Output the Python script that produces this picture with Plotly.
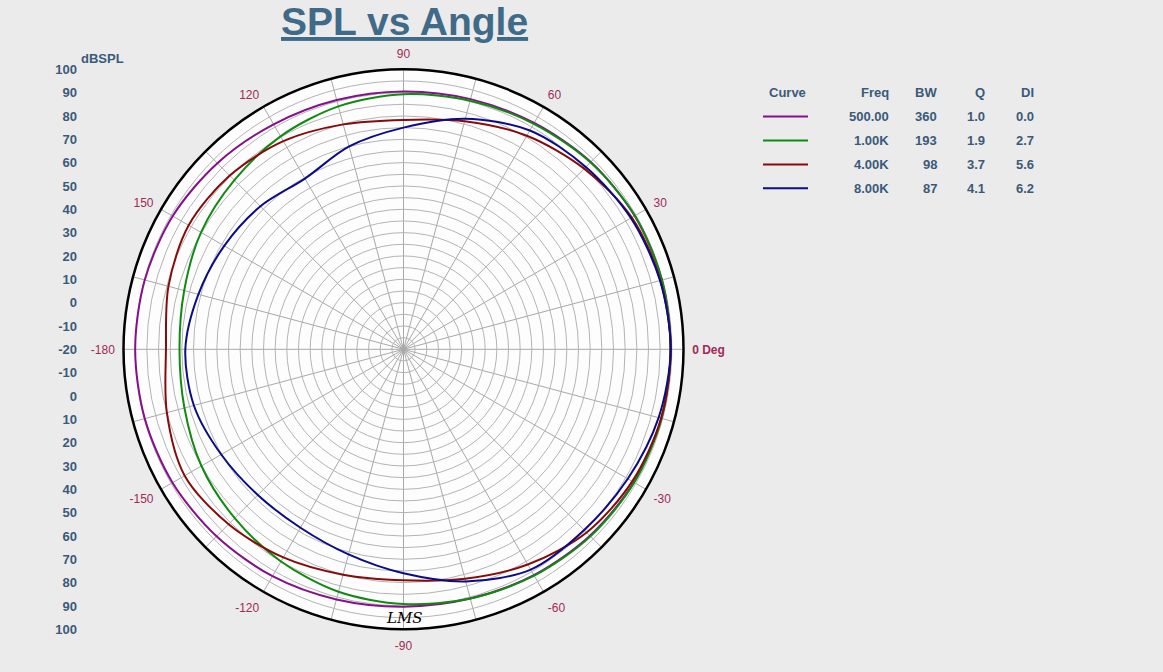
import plotly.graph_objects as go

# ---------------- data ----------------
angles_deg = list(range(0, 360, 15))

spl_500 = [94.5, 94.6, 94.4, 93.5, 92.0, 91.0, 90.5, 90.6, 91.3, 92.8, 94.2, 94.8,
           95.0, 94.8, 94.3, 93.3, 92.3, 91.0, 90.3, 90.6, 91.8, 93.0, 94.0, 94.4]
spl_1k = [94.5, 94.7, 94.5, 93.3, 91.6, 90.3, 89.3, 87.8, 85.4, 82.5, 80.2, 77.3,
          76.0, 77.2, 80.0, 82.3, 85.0, 87.6, 89.2, 90.6, 92.0, 93.3, 94.2, 94.5]
spl_4k = [94.5, 94.0, 93.0, 89.5, 85.7, 81.2, 78.3, 79.8, 83.0, 85.3, 86.3, 84.3,
          81.8, 85.0, 88.3, 86.0, 83.0, 80.0, 79.0, 81.8, 86.5, 91.0, 93.2, 94.3]
spl_8k = [94.5, 93.8, 92.5, 90.5, 88.3, 82.3, 75.0, 70.0, 64.5, 66.7, 68.7, 71.0,
          73.5, 73.0, 70.2, 68.3, 68.3, 71.0, 76.0, 83.0, 89.0, 89.5, 91.0, 93.2]

curve_names = ["500 Hz", "1 kHz", "4 kHz", "8 kHz"]
curve_colors = ["#84108a", "#118a11", "#860c0c", "#0c0c86"]
table_freq = ["500.00", "1.00K", "4.00K", "8.00K"]
table_bw = ["360", "193", "98", "87"]
table_q = ["1.0", "1.9", "3.7", "4.1"]
table_di = ["0.0", "2.7", "5.6", "6.2"]

angle_tick_vals = list(range(0, 360, 15))
angle_tick_text = {0: "<b>0 Deg</b>", 30: "30", 60: "60", 90: "90", 120: "120", 150: "150",
                   180: "-180", 210: "-150", 240: "-120", 270: "-90", 300: "-60", 330: "-30"}
radial_grid_vals = list(range(-15, 101, 5))
spl_scale_vals = list(range(-120, 121, 10))
spl_scale_text = [str(abs(v) - 20) for v in spl_scale_vals]

# ---------------- layout constants ----------------
W, H = 1163, 672
cx, cy, R = 403.5, 349.3, 280.0
px = lambda x: x / W
py = lambda y: 1 - y / H

BG = "#ebebeb"
TXT = "#3a5a7a"
ANG = "#a02a58"

fig = go.Figure()
series = [spl_500, spl_1k, spl_4k, spl_8k]
for name, vals, col in zip(curve_names, series, curve_colors):
    fig.add_trace(go.Scatterpolar(
        r=vals + [vals[0]], theta=angles_deg + [angles_deg[0]],
        mode="lines", name=name, line=dict(color=col, width=2, shape="spline", smoothing=0.9),
        showlegend=False, hoverinfo="skip"))

dom_x = [px(cx - R), px(cx + R)]
dom_y = [py(cy + R), py(cy - R)]

fig.update_layout(
    width=W, height=H, margin=dict(l=0, r=0, t=0, b=0, autoexpand=False),
    paper_bgcolor=BG, plot_bgcolor="rgba(0,0,0,0)",
    showlegend=False,
    polar=dict(
        domain=dict(x=dom_x, y=dom_y),
        bgcolor="#fdfdfd",
        radialaxis=dict(range=[-20, 100], tickvals=radial_grid_vals, showticklabels=False,
                        ticks="", showline=False, gridcolor="#b4b4b4", gridwidth=1),
        angularaxis=dict(rotation=0, direction="counterclockwise",
                         tickvals=angle_tick_vals,
                         ticktext=[angle_tick_text.get(a, "") for a in angle_tick_vals],
                         ticks="outside", ticklen=5, tickcolor="rgba(0,0,0,0)",
                         showline=True, linecolor="black", linewidth=2.5,
                         gridcolor="#a8a8a8", gridwidth=1,
                         tickfont=dict(family="Liberation Sans, Arial", size=12, color=ANG)),
    ),
    xaxis=dict(domain=[px(77), px(80)], visible=False, range=[0, 1], automargin=False),
    yaxis=dict(domain=dom_y, range=[-120, 120], anchor="free", position=px(77),
               automargin=False,
               tickvals=spl_scale_vals, ticktext=spl_scale_text, ticks="",
               showgrid=False, zeroline=False, showline=False,
               tickfont=dict(family="Liberation Sans, Arial", size=13, color=TXT, weight="bold")),
)
fig.add_trace(go.Scatter(x=[None], y=[None], xaxis="x", yaxis="y", showlegend=False))

annotations = []
annotations.append(dict(text="SPL vs Angle", x=px(404), y=py(22), xref="paper", yref="paper",
                        showarrow=False, xanchor="center", yanchor="middle",
                        font=dict(family="Liberation Sans, Arial", size=39, color="#3f6a88",
                                  weight="bold", lineposition="under")))
annotations.append(dict(text="dBSPL", x=px(79), y=py(58.5), xref="paper", yref="paper",
                        showarrow=False, xanchor="left", yanchor="middle",
                        font=dict(family="Liberation Sans, Arial", size=13, color=TXT, weight="bold")))
annotations.append(dict(text="LMS", x=px(404), y=py(618), xref="paper", yref="paper",
                        showarrow=False, xanchor="center", yanchor="middle",
                        font=dict(family="DejaVu Serif", size=15, color="black", style="italic")))

hdr_y = 92.7
row_dy = 23.9
col_right = {"Freq": 890.7, "BW": 939, "Q": 987, "DI": 1036}
hfont = dict(family="Liberation Sans, Arial", size=13, color=TXT, weight="bold")
annotations.append(dict(text="Curve", x=px(787), y=py(hdr_y), xref="paper", yref="paper",
                        showarrow=False, xanchor="center", yanchor="middle", font=hfont))
for k, xr in col_right.items():
    annotations.append(dict(text=k, x=px(xr), y=py(hdr_y), xref="paper", yref="paper",
                            showarrow=False, xanchor="right", yanchor="middle", font=hfont))
shapes = []
for i in range(4):
    yy = hdr_y + row_dy * (i + 1)
    for k, vals in zip(["Freq", "BW", "Q", "DI"], [table_freq, table_bw, table_q, table_di]):
        annotations.append(dict(text=vals[i], x=px(col_right[k]), y=py(yy), xref="paper",
                                yref="paper", showarrow=False, xanchor="right", yanchor="middle",
                                font=hfont))
    shapes.append(dict(type="line", xref="paper", yref="paper", x0=px(763), x1=px(808),
                       y0=py(yy), y1=py(yy), line=dict(color=curve_colors[i], width=2)))

fig.update_layout(annotations=annotations, shapes=shapes)
fig.write_html("out.html", config={"displayModeBar": False},
               post_script="document.body.style.margin='0px';"
                           "document.documentElement.style.overflow='hidden';"
                           "document.body.style.overflow='hidden';")
